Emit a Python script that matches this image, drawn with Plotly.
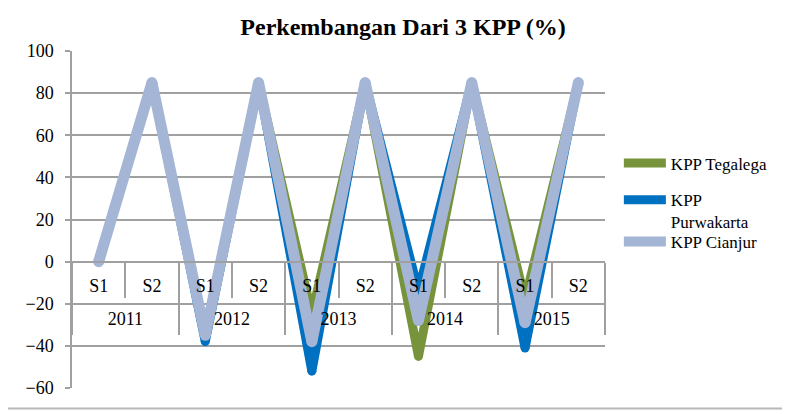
import plotly.graph_objects as go

years = ["2011", "2011", "2012", "2012", "2013", "2013", "2014", "2014", "2015", "2015"]
semesters = ["S1", "S2", "S1", "S2", "S1", "S2", "S1", "S2", "S1", "S2"]

tegalega = [0, 85, -35, 85, -25, 85, -45, 85, -18, 85]
purwakarta = [0, 85, -38, 85, -52, 85, -14, 85, -41, 85]
cianjur = [0, 85, -35, 85, -38, 85, -28, 85, -29, 85]

names = ["KPP Tegalega", "KPP<br>Purwakarta", "KPP Cianjur"]
legends = ["legend", "legend2", "legend3"]
colors = ["#77933C", "#0070C0", "#A5B5D5"]
widths = [9, 9, 11]
series = [tegalega, purwakarta, cianjur]

cats = [f"{y} {s}" for y, s in zip(years, semesters)]
n = len(cats)
uniq_years = list(dict.fromkeys(years))
year_centers = [sum(i for i, y in enumerate(years) if y == u) / years.count(u) for u in uniq_years]
boundaries = [i - 0.5 for i in range(n + 1)]
group_bounds = [-0.5] + [i + 0.5 for i in range(n - 1) if years[i] != years[i + 1]] + [n - 0.5]

fig = go.Figure()
for i, (name, vals) in enumerate(zip(names, series)):
    fig.add_trace(go.Scatter(
        x=cats, y=vals, name=name, legendgroup=str(i), legend=legends[i], mode="lines",
        line=dict(color=colors[i], width=widths[i]),
    ))
    fig.add_trace(go.Scatter(
        x=cats, y=vals, name=name, legendgroup=str(i), mode="markers", showlegend=False,
        marker=dict(color=colors[i], size=widths[i], line=dict(width=0)), hoverinfo="skip",
    ))

serif = "Liberation Serif"
grey = "#A0A0A0"
pos0 = (0 - (-60)) / 160
rng = [-0.5, n - 0.5]
common = dict(overlaying="x", anchor="free", position=pos0, type="linear", range=rng,
              showgrid=False, zeroline=False, showline=False,
              tickfont=dict(size=18, family=serif, color="black"))
leg = dict(x=1.026, xanchor="left", yanchor="top", valign="top",
           font=dict(size=17, family=serif), itemwidth=42, bgcolor="rgba(0,0,0,0)")

fig.update_layout(
    width=790, height=414,
    margin=dict(l=64, r=193, t=43, b=34),
    paper_bgcolor="white", plot_bgcolor="white",
    font=dict(family=serif, size=18, color="black"),
    title=dict(text="<b>Perkembangan Dari 3 KPP (%)</b>", x=0.5, xanchor="center",
               y=1 - 19 / 414, yanchor="middle", font=dict(size=24, family=serif)),
    showlegend=True,
    legend=dict(leg, y=0.72),
    legend2=dict(leg, y=0.611),
    legend3=dict(leg, y=0.487),
    xaxis=dict(type="category", categoryorder="array", categoryarray=cats, range=rng,
               anchor="free", position=pos0, showline=True, linecolor=grey, linewidth=1.5,
               showticklabels=False, ticks="", showgrid=False, zeroline=False),
    xaxis2=dict(common, tickvals=boundaries, ticktext=[""] * len(boundaries),
                ticks="outside", ticklen=35, tickcolor=grey, tickwidth=1.5),
    xaxis3=dict(common, tickvals=group_bounds, ticktext=[""] * len(group_bounds),
                ticks="outside", ticklen=72, tickcolor=grey, tickwidth=1.5),
    xaxis4=dict(common, tickvals=list(range(n)), ticktext=semesters, ticks="",
                ticklabelstandoff=11),
    xaxis5=dict(common, tickvals=year_centers, ticktext=uniq_years, ticks="",
                ticklabelstandoff=44),
    yaxis=dict(range=[-60, 100], dtick=20, showgrid=True, gridcolor=grey, gridwidth=1.5,
               zeroline=False, showline=True, linecolor=grey, linewidth=1.5,
               ticks="outside", ticklen=5, tickcolor=grey, tickwidth=1.5,
               ticklabelstandoff=8, tickfont=dict(size=18, family=serif)),
    shapes=[dict(type="line", xref="paper", yref="paper", x0=-64 / 533, x1=(790 - 64) / 533,
                 y0=-20.5 / 337, y1=-20.5 / 337, line=dict(color="#B8B8B8", width=2))],
)
# invisible traces to activate the overlay axes
for ax in ["x2", "x3", "x4", "x5"]:
    fig.add_trace(go.Scatter(x=[None], y=[None], xaxis=ax, showlegend=False, hoverinfo="skip"))

fig.write_html("out.html")
